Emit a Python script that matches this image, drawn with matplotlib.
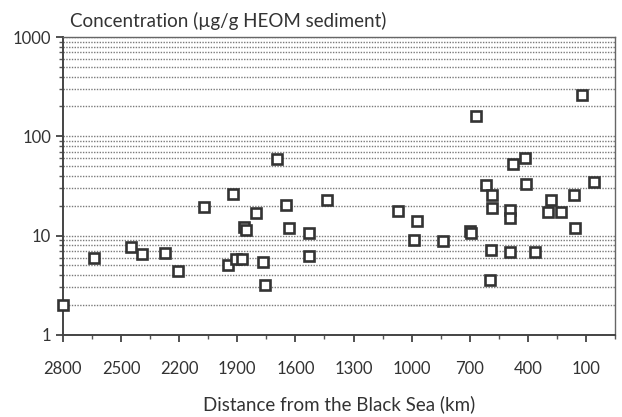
import matplotlib.pyplot as plt
from matplotlib import ticker

# distance from the Black Sea (km) and concentration (ug/g HEOM sediment)
distance = [2800, 2640, 2450, 2390, 2275, 2205, 2070, 1920, 1950, 1905,
            1875, 1865, 1855, 1805, 1765, 1755, 1695, 1650, 1635, 1532,
            1528, 1436, 1070, 975, 988, 840, 700, 695, 670, 595,
            593, 616, 585, 588, 494, 492, 494, 477, 416, 409,
            365, 297, 281, 230, 164, 159, 121, 60]
concentration = [2.0, 5.9, 7.6, 6.5, 6.7, 4.4, 19.6, 26.4, 5.1, 5.8,
                 5.8, 12.3, 11.5, 16.8, 5.45, 3.2, 58.6, 20.4, 11.9, 10.7,
                 6.3, 23.0, 17.8, 14.1, 9.0, 8.9, 11.2, 10.7, 161, 3.6,
                 7.1, 32.4, 25.5, 18.9, 6.8, 18.1, 15.1, 53, 61, 33.4,
                 6.9, 17.4, 23.0, 17.3, 25.9, 12.0, 259, 35]

x_ticks = [2800, 2500, 2200, 1900, 1600, 1300, 1000, 700, 400, 100]
y_ticks = [1, 10, 100, 1000]

plt.rcParams['font.family'] = ['Lato', 'DejaVu Sans']

fig = plt.figure(figsize=(6.22, 4.17), dpi=100)
ax = fig.add_axes([0.101, 0.197, 0.888, 0.714])

ax.set_yscale('log')
ax.set_xlim(2800, 0)
ax.set_ylim(1, 1000)

# horizontal dotted grid at every log step
ax.yaxis.set_minor_locator(ticker.LogLocator(base=10, subs=range(2, 10)))
ax.grid(True, which='both', axis='y', color='#7a7a7a', linestyle=(0, (1, 1)), linewidth=1.0)

ax.plot(distance, concentration, linestyle='none', marker='s', markersize=7,
        markerfacecolor='white', markeredgecolor='#333333', markeredgewidth=1.9,
        zorder=3, clip_on=False)

ax.set_xticks(x_ticks)
ax.set_xticks([t + 150 for t in x_ticks[1:]] + [t - 150 for t in x_ticks[-1:]], minor=True)
ax.set_yticks(y_ticks)
ax.yaxis.set_major_formatter(ticker.FuncFormatter(lambda v, p: f'{v:g}'))
ax.tick_params(axis='both', which='major', labelsize=12, colors='#333333', length=5, width=1.2)
ax.tick_params(axis='both', which='minor', length=3, width=1, colors='#555555')
ax.tick_params(axis='x', pad=14)

for side in ['left', 'bottom']:
    ax.spines[side].set_color('#444444')
    ax.spines[side].set_linewidth(1.4)
for side in ['top', 'right']:
    ax.spines[side].set_color('#666666')
    ax.spines[side].set_linewidth(1.0)

fig.text(0.113, 0.935, 'Concentration (µg/g HEOM sediment)', fontsize=13.5, color='#333333')
ax.set_xlabel('Distance from the Black Sea (km)', fontsize=13.5, color='#333333', labelpad=13)

plt.savefig('out.png')
